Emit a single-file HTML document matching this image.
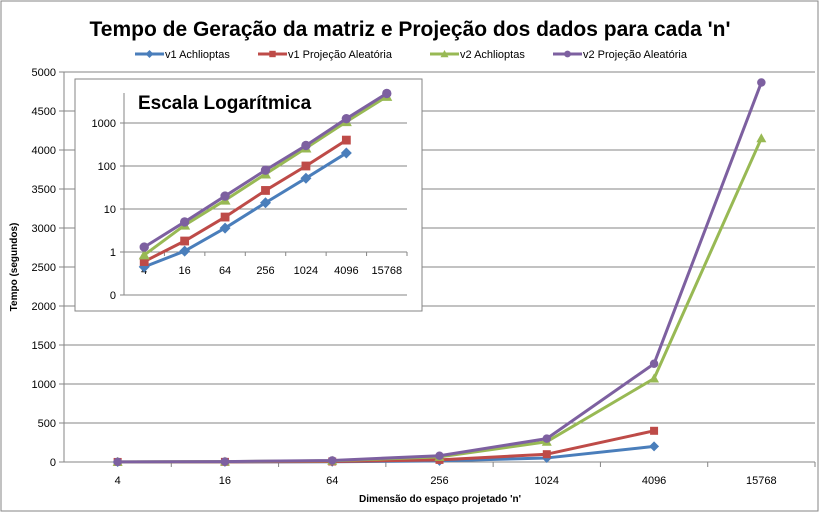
<!DOCTYPE html>
<html><head><meta charset="utf-8"><style>
body{margin:0;background:#fff}
svg text{font-family:"Liberation Sans",sans-serif;fill:#000}
</style></head><body>
<svg id="c" width="820" height="513" xmlns="http://www.w3.org/2000/svg">
<rect x="1" y="1" width="817" height="510" fill="#fff" stroke="#868686"/>
<text x="410" y="36" text-anchor="middle" font-size="21" font-weight="bold">Tempo de Geração  da matriz e Projeção dos dados para cada 'n'</text>
<g id="legend"></g>
<g id="main"></g>
<text x="17" y="267" font-size="10" font-weight="bold" text-anchor="middle" transform="rotate(-90 17 267)">Tempo (segundos)</text>
<text x="440" y="502" font-size="10" font-weight="bold" text-anchor="middle">Dimensão do espaço projetado 'n'</text>
<rect x="75" y="79" width="347" height="232" fill="#fff" stroke="#868686"/>
<g id="inset"></g>
<text x="138" y="109" font-size="19" font-weight="bold">Escala Logarítmica</text>
</svg>
<script>
const categories=["4","16","64","256","1024","4096","15768"];
const v1Ach=[0.45,1.05,3.6,14,52,200,null];
const v1Proj=[0.6,1.8,6.5,27,100,400,null];
const v2Ach=[0.85,4.2,16,65,260,1070,4150];
const v2Proj=[1.3,5,20,80,300,1260,4866];
const yTicks=[0,500,1000,1500,2000,2500,3000,3500,4000,4500,5000];
const logTicks=[0.1,1,10,100,1000];
const logLabels=["0","1","10","100","1000"];
const seriesNames=["v1 Achlioptas","v1 Projeção Aleatória","v2 Achlioptas","v2 Projeção Aleatória"];
const series=[v1Ach,v1Proj,v2Ach,v2Proj];
const colors=["#4a7ebb","#be4b48","#98b954","#7d60a0"];
const markers=["diamond","square","triangle","circle"];
const NS="http://www.w3.org/2000/svg";
function mk(p,t,a){const e=document.createElementNS(NS,t);for(const k in a)e.setAttribute(k,a[k]);p.appendChild(e);return e;}
function marker(g,type,x,y,c,s){
 if(type==="diamond")return mk(g,"polygon",{points:`${x},${y-s} ${x+s},${y} ${x},${y+s} ${x-s},${y}`,fill:c});
 if(type==="square")return mk(g,"rect",{x:x-s*0.8,y:y-s*0.8,width:s*1.6,height:s*1.6,fill:c});
 if(type==="triangle")return mk(g,"polygon",{points:`${x},${y-s} ${x+s},${y+s*0.8} ${x-s},${y+s*0.8}`,fill:c});
 return mk(g,"circle",{cx:x,cy:y,r:s*0.85,fill:c});
}
// main
const L=64,R=815,T=72,B=462,cw=(R-L)/categories.length;
const mx=i=>L+cw*(i+0.5), my=v=>B-(v/5000)*(B-T);
const gm=document.getElementById("main");
yTicks.forEach(t=>{
 const l=mk(gm,"line",{x1:L,x2:R,y1:my(t),y2:my(t),stroke:"#868686"});
 
 mk(gm,"line",{x1:L-5,x2:L,y1:my(t),y2:my(t),stroke:"#868686"});
 const tx=mk(gm,"text",{x:L-8,y:my(t)+4,"text-anchor":"end","font-size":"11"});tx.textContent=t;
 
});
mk(gm,"line",{x1:L,x2:L,y1:T,y2:B,stroke:"#868686"});
categories.forEach((c,i)=>{
 mk(gm,"line",{x1:L+cw*(i+1),x2:L+cw*(i+1),y1:B,y2:B+5,stroke:"#868686"});
 const tx=mk(gm,"text",{x:mx(i),y:B+22,"text-anchor":"middle","font-size":"11"});tx.textContent=c;
 
});
function drawSeries(g,xf,yf,ms){
 series.forEach((s,k)=>{
  const pts=s.map((v,i)=>v==null?null:[xf(i),yf(v)]).filter(p=>p);
  const pl=mk(g,"polyline",{points:pts.map(p=>p.join(",")).join(" "),fill:"none",stroke:colors[k],"stroke-width":3,"stroke-linejoin":"round"});
  
  pts.forEach(p=>{const m=marker(g,markers[k],p[0],p[1],colors[k],ms);
   });
 });
}
drawSeries(gm,mx,my,5);
// inset
const iL=124,iR=407,iB=295,dec=43,iT=93,icw=(iR-iL)/categories.length;
const ix=i=>iL+icw*(i+0.5), iy=v=>iB-(Math.log10(v)+1)*dec;
const gi=document.getElementById("inset");
logTicks.forEach((t,j)=>{
 const y=iy(t);
 if(j>0)mk(gi,"line",{x1:iL,x2:iR,y1:y,y2:y,stroke:"#868686"});
 mk(gi,"line",{x1:iL-4,x2:iL,y1:y,y2:y,stroke:"#868686"});
 const tx=mk(gi,"text",{x:iL-8,y:y+4,"text-anchor":"end","font-size":"11"});tx.textContent=logLabels[j];
 
});
mk(gi,"line",{x1:iL,x2:iR,y1:iB,y2:iB,stroke:"#868686"});
mk(gi,"line",{x1:iL,x2:iL,y1:iT,y2:iB,stroke:"#868686"});
categories.forEach((c,i)=>{
 mk(gi,"line",{x1:iL+icw*(i+1),x2:iL+icw*(i+1),y1:iy(1),y2:iy(1)+4,stroke:"#868686"});
 const tx=mk(gi,"text",{x:ix(i),y:iy(1)+22,"text-anchor":"middle","font-size":"11"});tx.textContent=c;
 
});
drawSeries(gi,ix,iy,5.5);
// legend
const gl=document.getElementById("legend");
const lx=[135,258,430,553];
seriesNames.forEach((n,k)=>{
 const g=mk(gl,"g",{});
 
 mk(g,"line",{x1:lx[k],x2:lx[k]+29,y1:54,y2:54,stroke:colors[k],"stroke-width":3});
 marker(g,markers[k],lx[k]+14.5,54,colors[k],4);
 const t=mk(g,"text",{x:lx[k]+30,y:58,"font-size":"11"});t.textContent=n;
});
</script>
</body></html>
